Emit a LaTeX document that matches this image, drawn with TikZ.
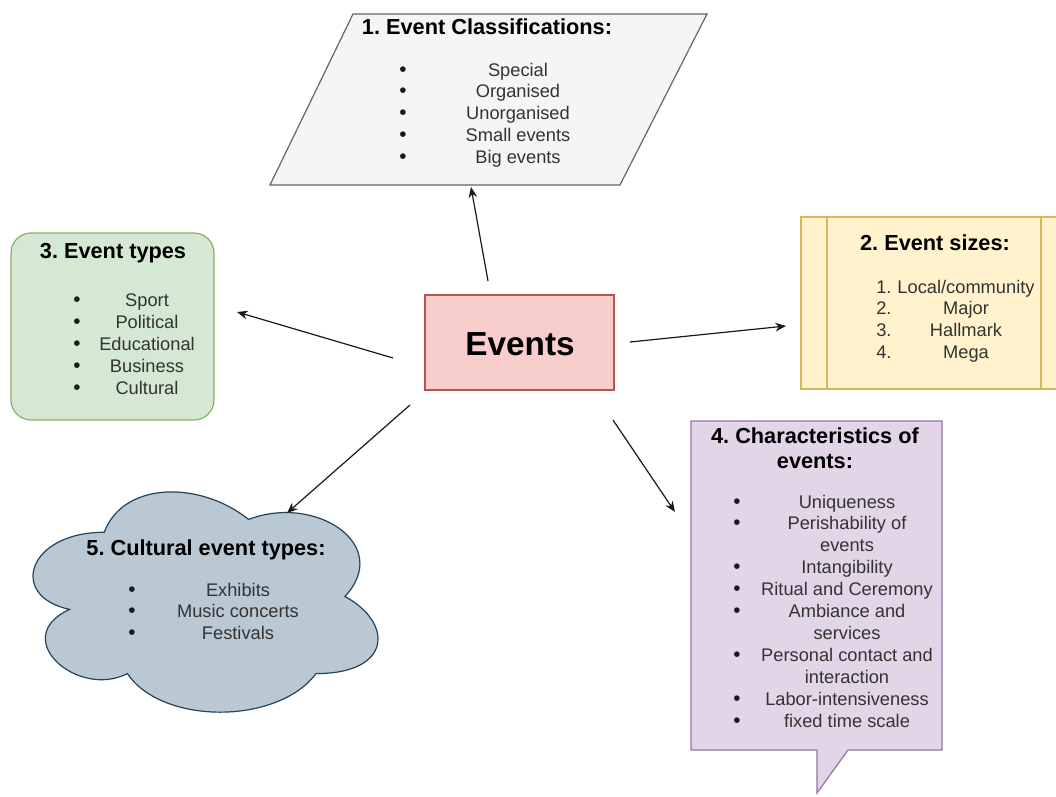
\documentclass[tikz,border=0pt]{standalone}
\usepackage{fontspec}
\setmainfont{Liberation Sans}
\frenchspacing
\usetikzlibrary{arrows.meta,fit}
\definecolor{clsfill}{HTML}{F5F5F5}\definecolor{clsdraw}{HTML}{666666}
\definecolor{szfill}{HTML}{FFF2CC}\definecolor{szdraw}{HTML}{D6B656}
\definecolor{tyfill}{HTML}{D5E8D4}\definecolor{tydraw}{HTML}{82B366}
\definecolor{evfill}{HTML}{F8CECC}\definecolor{evdraw}{HTML}{B85450}
\definecolor{chfill}{HTML}{E1D5E7}\definecolor{chdraw}{HTML}{9673A6}
\definecolor{clfill}{HTML}{BAC8D3}\definecolor{cldraw}{HTML}{23445D}
\definecolor{itemtext}{HTML}{333333}
\begin{document}
\begin{tikzpicture}[x=0.75pt,y=-0.75pt,
  shapeline/.style={line width=0.9pt},
  boxnode/.style={shapeline, inner sep=0pt, outer sep=0pt},
  title/.style={font=\bfseries\fontsize{16.3pt}{19pt}\selectfont, anchor=base, inner sep=0pt, text=black},
  item/.style={font=\fontsize{13.7pt}{16pt}\selectfont, anchor=base, inner sep=0pt, text=itemtext},
  bul/.style={font=\fontsize{15.5pt}{16pt}\selectfont, anchor=base, inner sep=0pt, text=black!90},
  numl/.style={item, anchor=base west},
  conn/.style={line width=0.9pt, -{Stealth[length=8pt,width=6.5pt]}, draw=black!90},
]
\useasboundingbox (0,0) rectangle (1056,796);
\fill[white] (0,0) rectangle (1056,796);

% ---- 1. classification (parallelogram)
\draw[shapeline, fill=clsfill, draw=clsdraw] (353,14) -- (707,14) -- (620,185) -- (270,185) -- cycle;
\node[title] (clstitle) at (487,34) {1. Event Classifications:};
\foreach \t [count=\i from 0] in {Special,Organised,Unorganised,Small events,Big events} {
  \node[bul] (clsb\i) at (403,76+21.75*\i) {\textbullet};
  \node[item] (clst\i) at (518,76+21.75*\i) {\t};
}

% ---- 2. sizes (process box)
\begin{scope}
\clip (0,0) rectangle (1056,796);
\node[boxnode, fill=szfill, draw=szdraw, fit={(801,217)(1067,389)}] (sizes) {};
\draw[shapeline, draw=szdraw] (827,217) -- (827,389);
\draw[shapeline, draw=szdraw] (1041,217) -- (1041,389);
\end{scope}
\node[title] (sztitle) at (935,250) {2. Event sizes:};
\foreach \t [count=\i from 0] in {Local/community,Major,Hallmark,Mega} {
  \pgfmathtruncatemacro{\n}{\i+1}
  \node[numl] (szn\i) at (876,293+21.67*\i) {\n.};
  \node[item] (szt\i) at (966,293+21.67*\i) {\t};
}

% ---- 3. types (rounded box)
\node[boxnode, fill=tyfill, draw=tydraw, rounded corners=15pt, fit={(11,233)(214,420)}] (types) {};
\node[title] (tytitle) at (113,258) {3. Event types};
\foreach \t [count=\i from 0] in {Sport,Political,Educational,Business,Cultural} {
  \node[bul] (tyb\i) at (77,306+22*\i) {\textbullet};
  \node[item] (tyt\i) at (147,306+22*\i) {\t};
}

% ---- centre
\node[boxnode, fill=evfill, draw=evdraw, fit={(425,295)(614,390)}] (ev) {};
\node[font=\bfseries\fontsize{25pt}{30pt}\selectfont, anchor=base, inner sep=0pt] (evtext) at (520,355) {Events};

% ---- 4. characteristics (callout)
\draw[shapeline, fill=chfill, draw=chdraw] (691,421) -- (942,421) -- (942,750) -- (848,750) -- (817,793) -- (817,750) -- (691,750) -- cycle;
\node[title] (chtitle1) at (815,443) {4. Characteristics of};
\node[title] (chtitle2) at (815,468) {events:};
\foreach \t [count=\i from 0] in {Uniqueness,Perishability of,events,Intangibility,Ritual and Ceremony,Ambiance and,services,Personal contact and,interaction,Labor-intensiveness,fixed time scale} {
  \node[item] (cht\i) at (847,508+21.9*\i) {\t};
}
\foreach \i in {0,1,3,4,5,7,9,10} {
  \node[bul] (chb\i) at (737,508+21.9*\i) {\textbullet};
}

% ---- 5. cloud
\draw[shapeline, fill=clfill, draw=cldraw]
  (104.25,532.25)
  .. controls (27.25,532.25) and (8,596.5) .. (69.6,609.35)
  .. controls (8,637.6) and (77.3,699.3) .. (127.35,673.6)
  .. controls (162,725) and (277.5,725) .. (316,673.6)
  .. controls (393,673.6) and (393,622.2) .. (344.9,596.5)
  .. controls (393,545.1) and (316,493.7) .. (248.6,519.4)
  .. controls (200.5,480.85) and (123.5,480.85) .. (104.25,532.25) -- cycle;
\node[title] (cltitle) at (206,555) {5. Cultural event types:};
\foreach \t [count=\i from 0] in {Exhibits,Music concerts,Festivals} {
  \node[bul] (clb\i) at (132,596+21.5*\i) {\textbullet};
  \node[item] (clt\i) at (238,596+21.5*\i) {\t};
}

% ---- connectors
\coordinate (a1s) at (488,281); \coordinate (a1e) at (471,187);
\coordinate (a2s) at (393,358); \coordinate (a2e) at (237,312);
\coordinate (a3s) at (630,342); \coordinate (a3e) at (786,326);
\coordinate (a4s) at (410,405); \coordinate (a4e) at (287,513);
\coordinate (a5s) at (613,420); \coordinate (a5e) at (675,512);
\draw[conn] (a1s) -- (a1e);
\draw[conn] (a2s) -- (a2e);
\draw[conn] (a3s) -- (a3e);
\draw[conn] (a4s) -- (a4e);
\draw[conn] (a5s) -- (a5e);
\end{tikzpicture}
\end{document}
